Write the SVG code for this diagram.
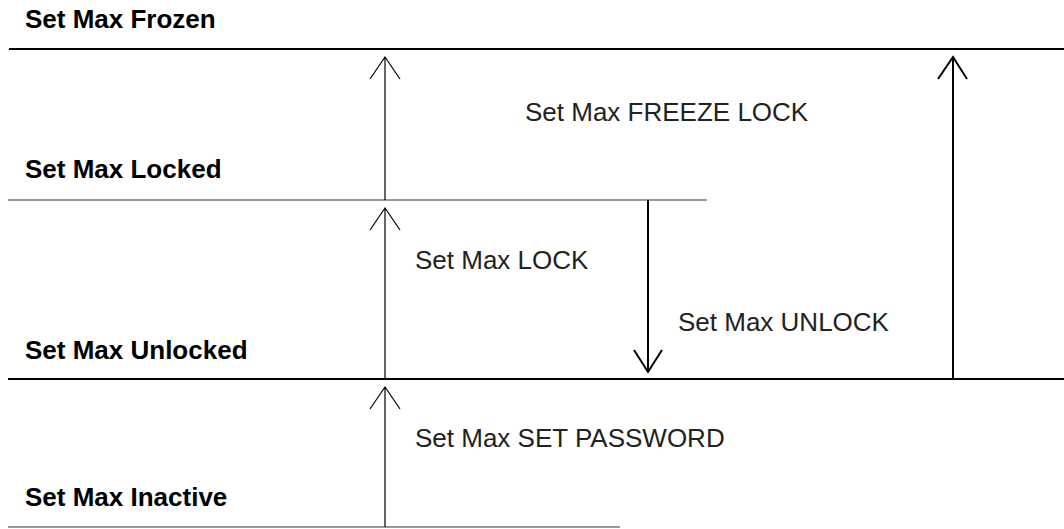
<svg xmlns="http://www.w3.org/2000/svg" width="1064" height="529" viewBox="0 0 1064 529">
<style>
.st{font-family:"Liberation Sans",Arial,sans-serif;font-weight:bold;font-size:26px;fill:#000}
.lb{font-family:"Liberation Sans",Arial,sans-serif;font-size:26px;fill:#222}
.thick{stroke:#000;stroke-width:2;fill:none}
.thin{stroke:#777;stroke-width:1.5;fill:none}
.a1{stroke:#000;stroke-width:1.2;fill:none}
.a2{stroke:#000;stroke-width:2;fill:none}
</style>
<rect width="1064" height="529" fill="#fff"/>
<g id="frozen"><text class="st" x="25" y="28">Set Max Frozen</text><line class="thick" x1="9" y1="49" x2="1064" y2="49"/></g>
<g id="locked"><text class="st" x="25" y="178">Set Max Locked</text><line class="thin" x1="8" y1="200" x2="707" y2="200"/></g>
<g id="unlocked"><text class="st" x="25" y="359">Set Max Unlocked</text><line class="thick" x1="8" y1="379" x2="1064" y2="379"/></g>
<g id="inactive"><text class="st" x="25" y="506">Set Max Inactive</text><line class="thin" x1="8" y1="527" x2="620" y2="527"/></g>
<g id="connectors">
<path class="a1" d="M385 200V57M370 79L385 57L400 79"/>
<path class="a1" d="M385 379V208M370 230L385 208L400 230"/>
<path class="a1" d="M385 527V387M370 409L385 387L400 409"/>
<path class="a2" d="M648 200V372M634 350L648 372L662 350"/>
<path class="a2" d="M953 379V57M938 79L953 57L967 79"/>
<text class="lb" x="525" y="121">Set Max FREEZE LOCK</text>
<text class="lb" x="415" y="269">Set Max LOCK</text>
<text class="lb" x="678" y="331">Set Max UNLOCK</text>
<text class="lb" x="415" y="447">Set Max SET PASSWORD</text>
</g>
</svg>
